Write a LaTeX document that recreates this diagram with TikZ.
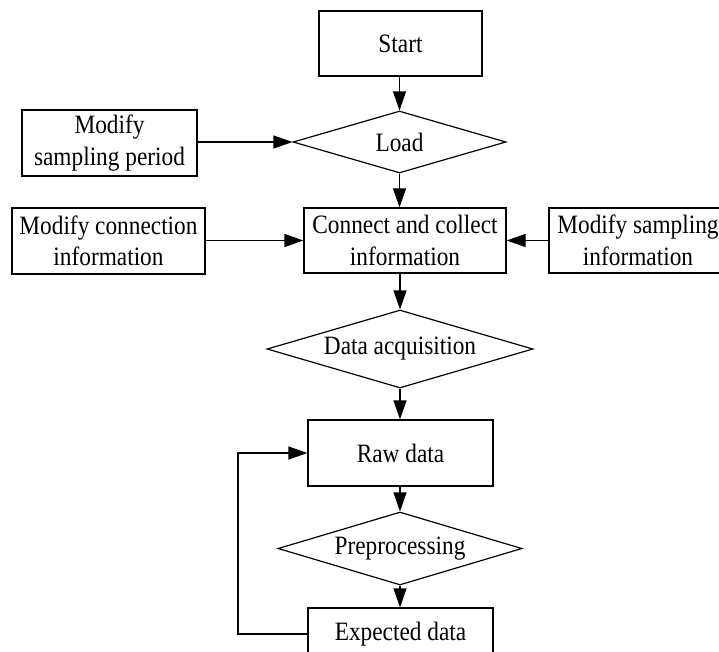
\documentclass[tikz,border=0pt]{standalone}
\usepackage{fontspec}
\setmainfont{Liberation Serif}[FakeStretch=0.88]
\usetikzlibrary{arrows.meta,shapes.geometric}

\tikzset{
  base/.style={font=\fontsize{26.5}{31.5}\selectfont, align=center, line width=1.2pt, draw=black, inner sep=0pt},
  procbox/.style={base, rectangle},
  decision/.style={base, diamond, aspect=3.4},
  flow/.style={line width=1.2pt, -{Triangle[length=19pt,width=13pt]}}
}

\begin{document}
\begin{tikzpicture}[x=1pt, y=-1pt]
  \useasboundingbox (0,0) rectangle (719,651);
  \clip (0,0) rectangle (719,651);

  % main column
  \node[procbox, minimum width=163pt, minimum height=65pt] (start) at (400.5,43.5) {Start};
  \node[decision, minimum width=213pt, minimum height=62pt] (load) at (399.5,142) {Load};
  \node[procbox, minimum width=202pt, minimum height=65pt] (cci) at (405,240.5) {Connect and collect\\information};
  \node[decision, minimum width=266pt, minimum height=78pt] (acq) at (400,349) {Data acquisition};
  \node[procbox, minimum width=185pt, minimum height=66pt] (raw) at (400.5,453) {Raw data};
  \node[decision, minimum width=244pt, minimum height=73pt] (pre) at (400,548.5) {Preprocessing};
  \node[procbox, minimum width=185pt, minimum height=52pt] (exp) at (400.5,634) {Expected data};

  % side inputs
  \node[procbox, minimum width=175pt, minimum height=66pt] (msp) at (109.5,143) {Modify\\sampling period};
  \node[procbox, minimum width=193pt, minimum height=66pt] (mci) at (108.5,241) {Modify connection\\information};
  \node[procbox, minimum width=178pt, minimum height=65pt] (msi) at (638,240.5) {Modify sampling\\information};

  \coordinate (fb) at (238,453);

  % connectors
  \draw[flow] (start.south -| load.north) -- (load.north);
  \draw[flow] (load.south) -- (load.south |- cci.north);
  \draw[flow] (acq.north |- cci.south) -- (acq.north);
  \draw[flow] (acq.south) -- (acq.south |- raw.north);
  \draw[flow] (pre.north |- raw.south) -- (pre.north);
  \draw[flow] (pre.south) -- (pre.south |- exp.north);

  \draw[flow] (msp.east |- load.west) -- (load.west);
  \draw[flow] (mci.east |- cci.west) -- (cci.west);
  \draw[flow] (msi.west) -- (msi.west -| cci.east);

  % feedback loop
  \draw[flow] (exp.west) -- (exp.west -| fb) -- (fb) -- (raw.west);
\end{tikzpicture}
\end{document}
